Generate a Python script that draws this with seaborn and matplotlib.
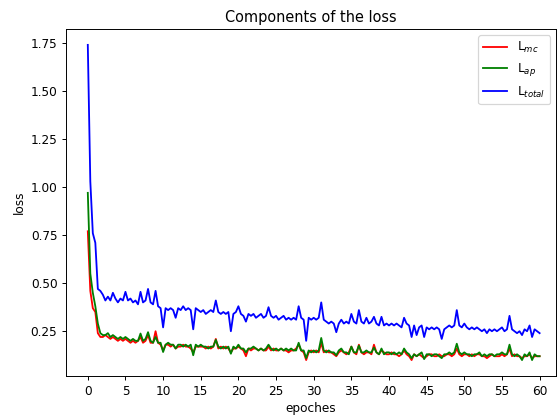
import numpy as np
import pandas as pd
import matplotlib
matplotlib.use('Agg')
import matplotlib.pyplot as plt
import seaborn as sns

# Loss values, three points per epoch (epoch = index / 3)
loss_mc = [
    0.77, 0.46, 0.37, 0.35, 0.24, 0.22, 0.22, 0.23, 0.22, 0.21, 0.22, 0.21, 0.20, 0.21, 0.20,
    0.21, 0.20, 0.19, 0.20, 0.19, 0.20, 0.22, 0.19, 0.20, 0.23, 0.19, 0.19, 0.25, 0.19, 0.18,
    0.15, 0.18, 0.18, 0.17, 0.18, 0.16, 0.17, 0.17, 0.18, 0.17, 0.17, 0.16, 0.14, 0.17, 0.17,
    0.17, 0.17, 0.16, 0.17, 0.16, 0.17, 0.21, 0.16, 0.17, 0.16, 0.17, 0.16, 0.14, 0.16, 0.16,
    0.17, 0.16, 0.15, 0.12, 0.16, 0.15, 0.16, 0.16, 0.15, 0.16, 0.15, 0.15, 0.17, 0.15, 0.16,
    0.15, 0.15, 0.16, 0.15, 0.15, 0.14, 0.15, 0.15, 0.16, 0.18, 0.15, 0.14, 0.10, 0.14, 0.15,
    0.14, 0.15, 0.14, 0.19, 0.14, 0.15, 0.14, 0.14, 0.13, 0.12, 0.14, 0.15, 0.14, 0.13, 0.14,
    0.17, 0.14, 0.13, 0.18, 0.14, 0.13, 0.14, 0.14, 0.13, 0.18, 0.14, 0.13, 0.15, 0.14, 0.13,
    0.13, 0.14, 0.13, 0.13, 0.12, 0.13, 0.15, 0.13, 0.12, 0.10, 0.13, 0.12, 0.13, 0.12, 0.11,
    0.12, 0.13, 0.13, 0.12, 0.12, 0.13, 0.12, 0.12, 0.13, 0.13, 0.12, 0.13, 0.16, 0.13, 0.12,
    0.13, 0.13, 0.12, 0.13, 0.12, 0.13, 0.13, 0.12, 0.12, 0.11, 0.12, 0.13, 0.12, 0.12, 0.12,
    0.13, 0.12, 0.13, 0.16, 0.12, 0.13, 0.12, 0.12, 0.11, 0.12, 0.12, 0.13, 0.11, 0.12, 0.12,
    0.12,
]
loss_ap = [
    0.97, 0.55, 0.45, 0.38, 0.29, 0.24, 0.23, 0.23, 0.24, 0.22, 0.23, 0.22, 0.21, 0.22, 0.21,
    0.22, 0.21, 0.20, 0.21, 0.20, 0.20, 0.238, 0.20, 0.21, 0.245, 0.20, 0.19, 0.22, 0.19, 0.19,
    0.142, 0.18, 0.19, 0.18, 0.18, 0.16, 0.18, 0.18, 0.17, 0.18, 0.17, 0.18, 0.125, 0.18, 0.17,
    0.18, 0.17, 0.17, 0.16, 0.17, 0.17, 0.205, 0.17, 0.16, 0.17, 0.16, 0.17, 0.133, 0.17, 0.16,
    0.18, 0.16, 0.16, 0.14, 0.16, 0.16, 0.17, 0.16, 0.15, 0.16, 0.15, 0.16, 0.18, 0.16, 0.15,
    0.16, 0.15, 0.16, 0.15, 0.16, 0.15, 0.16, 0.15, 0.15, 0.19, 0.15, 0.15, 0.11, 0.15, 0.14,
    0.15, 0.14, 0.15, 0.215, 0.15, 0.14, 0.15, 0.14, 0.14, 0.125, 0.15, 0.16, 0.14, 0.14, 0.13,
    0.17, 0.14, 0.14, 0.175, 0.14, 0.14, 0.15, 0.14, 0.14, 0.165, 0.14, 0.13, 0.16, 0.13, 0.14,
    0.14, 0.13, 0.14, 0.13, 0.14, 0.13, 0.16, 0.14, 0.13, 0.11, 0.13, 0.12, 0.13, 0.14, 0.105,
    0.13, 0.13, 0.12, 0.13, 0.13, 0.12, 0.11, 0.13, 0.13, 0.14, 0.13, 0.14, 0.185, 0.14, 0.13,
    0.14, 0.13, 0.13, 0.12, 0.13, 0.13, 0.14, 0.12, 0.13, 0.12, 0.13, 0.13, 0.12, 0.13, 0.13,
    0.14, 0.13, 0.13, 0.18, 0.13, 0.12, 0.13, 0.12, 0.10, 0.13, 0.12, 0.14, 0.10, 0.13, 0.12,
    0.12,
]
loss_total = [
    1.74, 1.03, 0.76, 0.71, 0.47, 0.46, 0.44, 0.41, 0.43, 0.41, 0.45, 0.42, 0.40, 0.42, 0.41,
    0.455, 0.41, 0.42, 0.40, 0.41, 0.39, 0.455, 0.40, 0.41, 0.47, 0.40, 0.39, 0.46, 0.38, 0.37,
    0.27, 0.37, 0.36, 0.37, 0.36, 0.32, 0.37, 0.36, 0.38, 0.36, 0.37, 0.36, 0.26, 0.37, 0.36,
    0.35, 0.36, 0.34, 0.35, 0.36, 0.35, 0.41, 0.35, 0.34, 0.35, 0.34, 0.35, 0.25, 0.34, 0.35,
    0.38, 0.34, 0.33, 0.30, 0.34, 0.33, 0.34, 0.32, 0.33, 0.34, 0.32, 0.33, 0.375, 0.33, 0.32,
    0.33, 0.31, 0.32, 0.33, 0.31, 0.32, 0.31, 0.32, 0.31, 0.38, 0.32, 0.31, 0.20, 0.32, 0.31,
    0.32, 0.31, 0.32, 0.40, 0.31, 0.30, 0.29, 0.30, 0.29, 0.245, 0.29, 0.31, 0.29, 0.30, 0.29,
    0.34, 0.30, 0.29, 0.36, 0.30, 0.29, 0.32, 0.29, 0.30, 0.325, 0.29, 0.28, 0.325, 0.28, 0.29,
    0.28, 0.29, 0.28, 0.29, 0.28, 0.27, 0.32, 0.29, 0.28, 0.22, 0.28, 0.23, 0.27, 0.28, 0.22,
    0.27, 0.26, 0.27, 0.26, 0.27, 0.26, 0.21, 0.26, 0.27, 0.28, 0.27, 0.28, 0.36, 0.28, 0.27,
    0.29, 0.27, 0.26, 0.27, 0.26, 0.27, 0.26, 0.25, 0.26, 0.24, 0.26, 0.25, 0.26, 0.25, 0.26,
    0.27, 0.25, 0.26, 0.33, 0.26, 0.25, 0.24, 0.25, 0.23, 0.26, 0.25, 0.28, 0.22, 0.26, 0.25,
    0.24,
]

epochs = np.arange(len(loss_total)) / 3
df = pd.DataFrame({'epoch': epochs, 'mc': loss_mc, 'ap': loss_ap, 'total': loss_total})

fig = plt.figure(figsize=(6.4, 4.8), dpi=87.34)
ax = fig.add_axes([0.118, 0.103, 0.877, 0.827])

sns.lineplot(data=df, x='epoch', y='mc', color='red', label='L$_{mc}$', ax=ax)
sns.lineplot(data=df, x='epoch', y='ap', color='green', label='L$_{ap}$', ax=ax)
sns.lineplot(data=df, x='epoch', y='total', color='blue', label='L$_{total}$', ax=ax)

ax.set_xticks(np.arange(0, 61, 5))
ax.set_xlim(-2.9, 62.2)
ax.set_title('Components of the loss')
ax.set_xlabel('epoches')
ax.set_ylabel('loss')
ax.legend(loc='upper right')

fig.savefig('out.png', dpi=87.34)
